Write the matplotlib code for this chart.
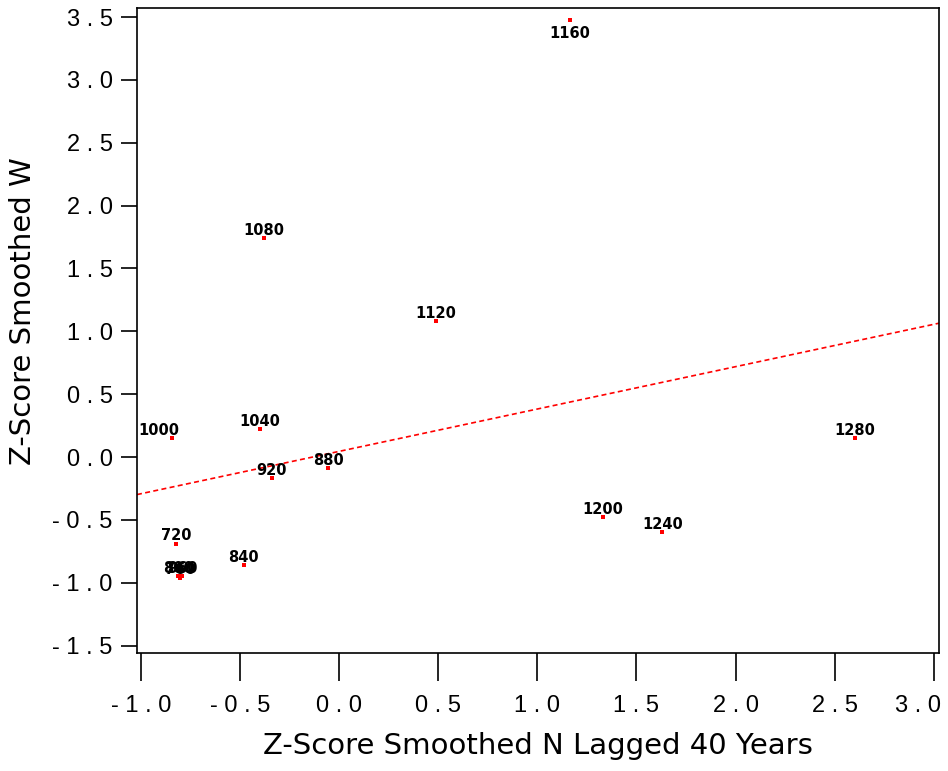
import numpy as np
import matplotlib
matplotlib.use("Agg")
import matplotlib.pyplot as plt
import matplotlib.transforms as mtransforms
from matplotlib.ticker import FuncFormatter

# year labels and z-scores
years = [720, 760, 800, 840, 880, 920, 960, 1000, 1040, 1080, 1120, 1160, 1200, 1240, 1280]
z_n_lag40 = [-0.82, -0.80, -0.81, -0.48, -0.055, -0.34, -0.79, -0.84, -0.40, -0.38, 0.49, 1.165, 1.33, 1.63, 2.60]
z_w = [-0.69, -0.96, -0.95, -0.86, -0.09, -0.17, -0.95, 0.15, 0.22, 1.74, 1.08, 3.48, -0.48, -0.60, 0.15]

# regression line as drawn (intercept, slope)
fit_intercept = 0.045
fit_slope = 0.337

xticks = [-1.0, -0.5, 0.0, 0.5, 1.0, 1.5, 2.0, 2.5, 3.0]
yticks = [-1.5, -1.0, -0.5, 0.0, 0.5, 1.0, 1.5, 2.0, 2.5, 3.0, 3.5]


def spaced(v, pos):
    s = "%.1f" % v
    return " ".join(s.replace("\u2212", "-"))


fig = plt.figure(figsize=(9.48, 7.71), dpi=100)
ax = fig.add_axes([0.1445, 0.153, 0.8460, 0.8366])

x = np.array(z_n_lag40)
y = np.array(z_w)
ax.scatter(x, y, s=7, marker="s", color="red", zorder=3, linewidths=0)

xl = np.array([-1.019, 3.026])
ax.plot(xl, fit_intercept + fit_slope * xl, color="red", lw=1.2,
        linestyle=(0, (3, 2)), zorder=2)

# label placement tweaks (pixel offsets from the point)
offsets = {1160: (0, -14), 1000: (-14, 8)}
for yr, xv, yv in zip(years, x, y):
    dx, dy = offsets.get(yr, (0, 8))
    ax.annotate(str(yr), (xv, yv), xytext=(dx, dy), textcoords="offset pixels",
                ha="center", va="center", fontsize=10.5, fontweight="bold",
                color="black", zorder=4)

ax.set_xlim(-1.019, 3.026)
ax.set_ylim(-1.559, 3.572)
ax.set_xticks(xticks)
ax.set_yticks(yticks)
ax.xaxis.set_major_formatter(FuncFormatter(spaced))
ax.yaxis.set_major_formatter(FuncFormatter(spaced))
ax.tick_params(axis="x", length=20, width=1.2, pad=10, labelsize=17)
ax.tick_params(axis="y", length=11.5, width=1.2, pad=6, labelsize=17)
for lab in ax.get_xticklabels() + ax.get_yticklabels():
    lab.set_fontfamily("Liberation Sans")
for sp in ax.spines.values():
    sp.set_linewidth(1.2)

# last x tick label sits flush with the right edge
last = ax.get_xticklabels()[-1]
last.set_ha("right")
last.set_transform(last.get_transform() + mtransforms.ScaledTranslation(7 / 100, 0, fig.dpi_scale_trans))

ax.set_xlabel("Z-Score Smoothed N Lagged 40 Years", fontsize=21, labelpad=11)
ax.set_ylabel("Z-Score Smoothed W", fontsize=21)
ax.yaxis.set_label_coords(-0.1247, 0.530)

fig.savefig("out.png", dpi=100)
